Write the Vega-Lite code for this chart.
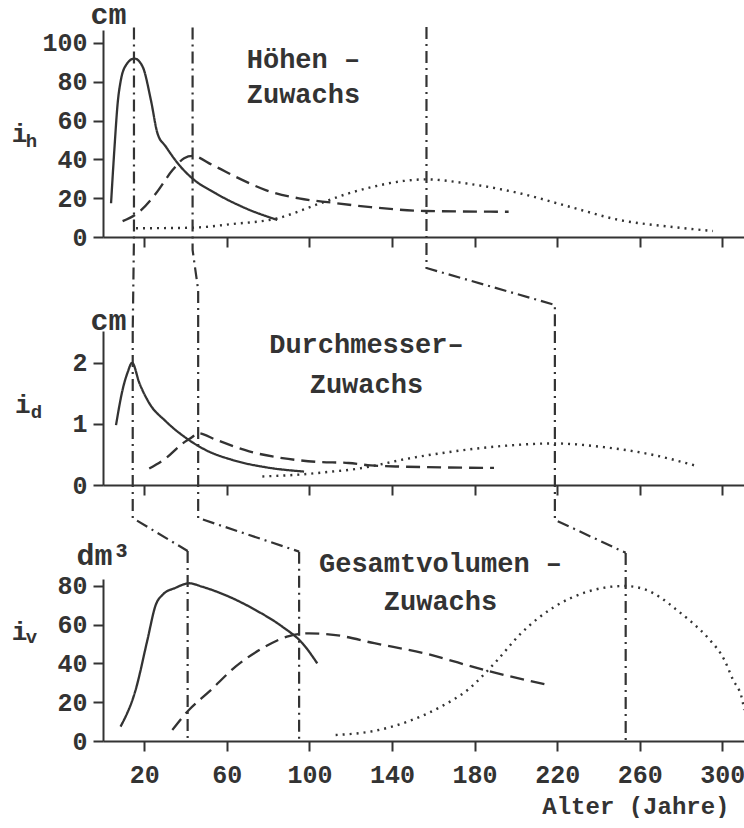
{
  "$schema": "https://vega.github.io/schema/vega-lite/v6.json",
  "background": "white",
  "padding": {"left": 11, "top": -1, "right": 0, "bottom": 0},
  "config": {
    "view": {"stroke": null},
    "font": "Liberation Mono",
    "axis": {"domainColor": "#333", "domainWidth": 2, "tickColor": "#333", "tickWidth": 2, "tickSize": 10, "labelFont": "Liberation Mono", "labelFontWeight": "bold", "labelFontSize": 25, "labelColor": "#333", "labelPadding": 6, "grid": false, "titleFont": "Liberation Mono", "titleFontWeight": "bold", "titleFontSize": 24, "titleColor": "#333"},
    "text": {"font": "Liberation Mono", "fontWeight": "bold", "color": "#333"}
  },
  "datasets": {
    "curves": [
      {"panel": "h", "series": "solid", "age": 3.9, "value": 17.4},
      {"panel": "h", "series": "solid", "age": 5.5, "value": 45},
      {"panel": "h", "series": "solid", "age": 7.2, "value": 70},
      {"panel": "h", "series": "solid", "age": 8.5, "value": 80},
      {"panel": "h", "series": "solid", "age": 11.2, "value": 88.7},
      {"panel": "h", "series": "solid", "age": 15.2, "value": 92},
      {"panel": "h", "series": "solid", "age": 19.2, "value": 87.8},
      {"panel": "h", "series": "solid", "age": 23.2, "value": 70.6},
      {"panel": "h", "series": "solid", "age": 26.4, "value": 53.4},
      {"panel": "h", "series": "solid", "age": 30.5, "value": 46.5},
      {"panel": "h", "series": "solid", "age": 36.9, "value": 37.1},
      {"panel": "h", "series": "solid", "age": 43.3, "value": 30.2},
      {"panel": "h", "series": "solid", "age": 54.6, "value": 22.5},
      {"panel": "h", "series": "solid", "age": 69.1, "value": 14.8},
      {"panel": "h", "series": "solid", "age": 84.4, "value": 8.8},
      {"panel": "h", "series": "dashed", "age": 9.5, "value": 8.2},
      {"panel": "h", "series": "dashed", "age": 17.6, "value": 13},
      {"panel": "h", "series": "dashed", "age": 25.7, "value": 22.5},
      {"panel": "h", "series": "dashed", "age": 33.7, "value": 34.5},
      {"panel": "h", "series": "dashed", "age": 39.3, "value": 40.6},
      {"panel": "h", "series": "dashed", "age": 43.3, "value": 41.8},
      {"panel": "h", "series": "dashed", "age": 53, "value": 37.1},
      {"panel": "h", "series": "dashed", "age": 65.9, "value": 30.2},
      {"panel": "h", "series": "dashed", "age": 78.8, "value": 24.2},
      {"panel": "h", "series": "dashed", "age": 94.9, "value": 19.9},
      {"panel": "h", "series": "dashed", "age": 111, "value": 17.7},
      {"panel": "h", "series": "dashed", "age": 129.7, "value": 15.4},
      {"panel": "h", "series": "dashed", "age": 156, "value": 13.4},
      {"panel": "h", "series": "dashed", "age": 196.5, "value": 13},
      {"panel": "h", "series": "dotted", "age": 16, "value": 4.5},
      {"panel": "h", "series": "dotted", "age": 30, "value": 4.6},
      {"panel": "h", "series": "dotted", "age": 43.3, "value": 4.8},
      {"panel": "h", "series": "dotted", "age": 62.7, "value": 6.7},
      {"panel": "h", "series": "dotted", "age": 84.4, "value": 9.6},
      {"panel": "h", "series": "dotted", "age": 103, "value": 16.5},
      {"panel": "h", "series": "dotted", "age": 119, "value": 22.5},
      {"panel": "h", "series": "dotted", "age": 129.7, "value": 25.6},
      {"panel": "h", "series": "dotted", "age": 145.7, "value": 28.9},
      {"panel": "h", "series": "dotted", "age": 156.2, "value": 29.7},
      {"panel": "h", "series": "dotted", "age": 178, "value": 27.3},
      {"panel": "h", "series": "dotted", "age": 202, "value": 22.5},
      {"panel": "h", "series": "dotted", "age": 226, "value": 15.6},
      {"panel": "h", "series": "dotted", "age": 250, "value": 8.8},
      {"panel": "h", "series": "dotted", "age": 274.7, "value": 5.3},
      {"panel": "h", "series": "dotted", "age": 295.5, "value": 3.1},
      {"panel": "d", "series": "solid", "age": 6.3, "value": 0.98},
      {"panel": "d", "series": "solid", "age": 9.5, "value": 1.56},
      {"panel": "d", "series": "solid", "age": 12, "value": 1.85},
      {"panel": "d", "series": "solid", "age": 14.1, "value": 2.0},
      {"panel": "d", "series": "solid", "age": 17.6, "value": 1.67},
      {"panel": "d", "series": "solid", "age": 22.4, "value": 1.34},
      {"panel": "d", "series": "solid", "age": 30.5, "value": 1.04},
      {"panel": "d", "series": "solid", "age": 40.2, "value": 0.77},
      {"panel": "d", "series": "solid", "age": 49.9, "value": 0.57},
      {"panel": "d", "series": "solid", "age": 62.7, "value": 0.41},
      {"panel": "d", "series": "solid", "age": 78.9, "value": 0.29},
      {"panel": "d", "series": "solid", "age": 97.4, "value": 0.22},
      {"panel": "d", "series": "dashed", "age": 22.4, "value": 0.27},
      {"panel": "d", "series": "dashed", "age": 30.5, "value": 0.44},
      {"panel": "d", "series": "dashed", "age": 37.8, "value": 0.66},
      {"panel": "d", "series": "dashed", "age": 43.4, "value": 0.79},
      {"panel": "d", "series": "dashed", "age": 45.8, "value": 0.85},
      {"panel": "d", "series": "dashed", "age": 54.7, "value": 0.74},
      {"panel": "d", "series": "dashed", "age": 70.8, "value": 0.55},
      {"panel": "d", "series": "dashed", "age": 86.9, "value": 0.44},
      {"panel": "d", "series": "dashed", "age": 103, "value": 0.38},
      {"panel": "d", "series": "dashed", "age": 119, "value": 0.36},
      {"panel": "d", "series": "dashed", "age": 129.7, "value": 0.32},
      {"panel": "d", "series": "dashed", "age": 145.9, "value": 0.3},
      {"panel": "d", "series": "dashed", "age": 189.4, "value": 0.28},
      {"panel": "d", "series": "dotted", "age": 77.2, "value": 0.14},
      {"panel": "d", "series": "dotted", "age": 95, "value": 0.17},
      {"panel": "d", "series": "dotted", "age": 111, "value": 0.22},
      {"panel": "d", "series": "dotted", "age": 122, "value": 0.26},
      {"panel": "d", "series": "dotted", "age": 132, "value": 0.32},
      {"panel": "d", "series": "dotted", "age": 145.9, "value": 0.42},
      {"panel": "d", "series": "dotted", "age": 170, "value": 0.55},
      {"panel": "d", "series": "dotted", "age": 194, "value": 0.64},
      {"panel": "d", "series": "dotted", "age": 218.4, "value": 0.68},
      {"panel": "d", "series": "dotted", "age": 242.6, "value": 0.62},
      {"panel": "d", "series": "dotted", "age": 266.8, "value": 0.49},
      {"panel": "d", "series": "dotted", "age": 287.7, "value": 0.31},
      {"panel": "v", "series": "solid", "age": 8.5, "value": 7.4},
      {"panel": "v", "series": "solid", "age": 15.8, "value": 26.3},
      {"panel": "v", "series": "solid", "age": 21.5, "value": 52},
      {"panel": "v", "series": "solid", "age": 25.5, "value": 70},
      {"panel": "v", "series": "solid", "age": 29, "value": 75.5},
      {"panel": "v", "series": "solid", "age": 35.2, "value": 79},
      {"panel": "v", "series": "solid", "age": 41.7, "value": 81.3},
      {"panel": "v", "series": "solid", "age": 48.1, "value": 79.5},
      {"panel": "v", "series": "solid", "age": 61, "value": 74.4},
      {"panel": "v", "series": "solid", "age": 73.9, "value": 67.5},
      {"panel": "v", "series": "solid", "age": 86.9, "value": 58.9},
      {"panel": "v", "series": "solid", "age": 96.6, "value": 50.4},
      {"panel": "v", "series": "solid", "age": 103.8, "value": 40},
      {"panel": "v", "series": "dashed", "age": 33.6, "value": 5.7},
      {"panel": "v", "series": "dashed", "age": 41.6, "value": 16},
      {"panel": "v", "series": "dashed", "age": 51.4, "value": 25.4},
      {"panel": "v", "series": "dashed", "age": 64.2, "value": 38.3},
      {"panel": "v", "series": "dashed", "age": 77.2, "value": 47.8},
      {"panel": "v", "series": "dashed", "age": 90.1, "value": 54.1},
      {"panel": "v", "series": "dashed", "age": 99.8, "value": 55.5},
      {"panel": "v", "series": "dashed", "age": 112.7, "value": 54.6},
      {"panel": "v", "series": "dashed", "age": 131.4, "value": 50.4},
      {"panel": "v", "series": "dashed", "age": 155.7, "value": 45.2},
      {"panel": "v", "series": "dashed", "age": 184.7, "value": 36.6},
      {"panel": "v", "series": "dashed", "age": 215.4, "value": 28.9},
      {"panel": "v", "series": "dotted", "age": 112.7, "value": 3.1},
      {"panel": "v", "series": "dotted", "age": 131.4, "value": 5.2},
      {"panel": "v", "series": "dotted", "age": 147.6, "value": 10},
      {"panel": "v", "series": "dotted", "age": 163.7, "value": 17.7},
      {"panel": "v", "series": "dotted", "age": 176.6, "value": 26.3},
      {"panel": "v", "series": "dotted", "age": 189.6, "value": 40},
      {"panel": "v", "series": "dotted", "age": 202.5, "value": 55.5},
      {"panel": "v", "series": "dotted", "age": 218.7, "value": 69.2},
      {"panel": "v", "series": "dotted", "age": 234.8, "value": 77},
      {"panel": "v", "series": "dotted", "age": 252.6, "value": 79.9},
      {"panel": "v", "series": "dotted", "age": 262.9, "value": 78},
      {"panel": "v", "series": "dotted", "age": 270, "value": 74},
      {"panel": "v", "series": "dotted", "age": 277.4, "value": 68},
      {"panel": "v", "series": "dotted", "age": 284.9, "value": 61.5},
      {"panel": "v", "series": "dotted", "age": 293.6, "value": 52.5},
      {"panel": "v", "series": "dotted", "age": 301, "value": 41.8},
      {"panel": "v", "series": "dotted", "age": 305, "value": 32},
      {"panel": "v", "series": "dotted", "age": 309.7, "value": 21.1},
      {"panel": "v", "series": "dotted", "age": 310.6, "value": 16}
    ],
    "links": [
      {"panel": "h", "link": 1, "order": 0, "age": 15, "value": 108},
      {"panel": "h", "link": 1, "order": 1, "age": 15, "value": 0},
      {"panel": "h", "link": 1, "order": 2, "age": 14.4, "value": -48.5},
      {"panel": "h", "link": 2, "order": 0, "age": 43.4, "value": 108},
      {"panel": "h", "link": 2, "order": 1, "age": 43.4, "value": -6.7},
      {"panel": "h", "link": 2, "order": 2, "age": 46.1, "value": -27.3},
      {"panel": "h", "link": 2, "order": 3, "age": 46.1, "value": -48.5},
      {"panel": "h", "link": 3, "order": 0, "age": 156.7, "value": 108.2},
      {"panel": "h", "link": 3, "order": 1, "age": 156.7, "value": -16},
      {"panel": "h", "link": 3, "order": 2, "age": 218.9, "value": -35},
      {"panel": "h", "link": 3, "order": 3, "age": 218.9, "value": -48.5},
      {"panel": "d", "link": 1, "order": 0, "age": 14.4, "value": 2.52},
      {"panel": "d", "link": 1, "order": 1, "age": 14.4, "value": -0.54},
      {"panel": "d", "link": 1, "order": 2, "age": 41, "value": -1.08},
      {"panel": "d", "link": 2, "order": 0, "age": 46.1, "value": 2.52},
      {"panel": "d", "link": 2, "order": 1, "age": 46.1, "value": -0.54},
      {"panel": "d", "link": 2, "order": 2, "age": 95, "value": -1.09},
      {"panel": "d", "link": 3, "order": 0, "age": 218.9, "value": 2.52},
      {"panel": "d", "link": 3, "order": 1, "age": 218.9, "value": -0.57},
      {"panel": "d", "link": 3, "order": 2, "age": 253.2, "value": -1.11},
      {"panel": "v", "link": 1, "order": 0, "age": 41, "value": 97.9},
      {"panel": "v", "link": 1, "order": 1, "age": 41, "value": 0},
      {"panel": "v", "link": 2, "order": 0, "age": 95, "value": 97.6},
      {"panel": "v", "link": 2, "order": 1, "age": 95, "value": 0},
      {"panel": "v", "link": 3, "order": 0, "age": 253.2, "value": 96.9},
      {"panel": "v", "link": 3, "order": 1, "age": 253.2, "value": 0}
    ]
  },
  "spacing": 94,
  "bounds": "flush",
  "vconcat": [
    {
      "width": 642,
      "height": 207,
      "layer": [
        {
          "data": {"name": "curves"},
          "transform": [{"filter": "datum.panel === 'h'"}],
          "mark": {"type": "line", "interpolate": "monotone", "color": "#333"},
          "encoding": {
            "x": {"field": "age", "type": "quantitative", "scale": {"domain": [0, 311], "nice": false, "zero": false}, "axis": {"values": [20, 60, 100, 140, 180, 220, 260, 300], "labels": false, "title": null}},
            "y": {"field": "value", "type": "quantitative", "scale": {"domain": [0, 106.7], "nice": false}, "axis": {"values": [0, 20, 40, 60, 80, 100], "format": "d", "title": null}},
            "detail": {"field": "series"},
            "strokeDash": {"field": "series", "type": "nominal", "scale": {"domain": ["solid", "dashed", "dotted"], "range": [[1, 0], [14, 7], [2, 5]]}, "legend": null},
            "strokeWidth": {"field": "series", "type": "nominal", "scale": {"domain": ["solid", "dashed", "dotted"], "range": [2.3, 2.4, 2]}, "legend": null}
          }
        },
        {
          "data": {"name": "links"},
          "transform": [{"filter": "datum.panel === 'h'"}],
          "mark": {"type": "line", "strokeDash": [12, 5, 2, 5], "strokeWidth": 2.2, "color": "#333"},
          "encoding": {
            "x": {"field": "age", "type": "quantitative"},
            "y": {"field": "value", "type": "quantitative"},
            "detail": {"field": "link"},
            "order": {"field": "order"}
          }
        },
        {
          "data": {"values": [{"label": "cm"}]},
          "mark": {"type": "text", "fontSize": 30, "align": "center", "baseline": "alphabetic"},
          "encoding": {"text": {"field": "label"}, "x": {"datum": 2.7}, "y": {"datum": 109.8}}
        },
        {
          "data": {"values": [{"label": "i"}]},
          "mark": {"type": "text", "fontSize": 26, "align": "center", "baseline": "alphabetic"},
          "encoding": {"text": {"field": "label"}, "x": {"datum": -40.4}, "y": {"datum": 49}}
        },
        {
          "data": {"values": [{"label": "h"}]},
          "mark": {"type": "text", "fontSize": 19, "align": "center", "baseline": "alphabetic"},
          "encoding": {"text": {"field": "label"}, "x": {"datum": -34.6}, "y": {"datum": 46.4}}
        },
        {
          "data": {"values": [{"label": "Höhen –\nZuwachs"}]},
          "mark": {"type": "text", "fontSize": 27, "align": "center", "baseline": "alphabetic", "lineBreak": "\n", "lineHeight": 35},
          "encoding": {"text": {"field": "label"}, "x": {"datum": 97.1}, "y": {"datum": 87.1}}
        }
      ]
    },
    {
      "width": 642,
      "height": 154,
      "layer": [
        {
          "data": {"name": "curves"},
          "transform": [{"filter": "datum.panel === 'd'"}],
          "mark": {"type": "line", "interpolate": "monotone", "color": "#333"},
          "encoding": {
            "x": {"field": "age", "type": "quantitative", "scale": {"domain": [0, 311], "nice": false, "zero": false}, "axis": {"values": [20, 60, 100, 140, 180, 220, 260, 300], "labels": false, "title": null}},
            "y": {"field": "value", "type": "quantitative", "scale": {"domain": [0, 2.52], "nice": false}, "axis": {"values": [0, 1, 2], "format": "d", "title": null}},
            "detail": {"field": "series"},
            "strokeDash": {"field": "series", "type": "nominal", "scale": {"domain": ["solid", "dashed", "dotted"], "range": [[1, 0], [14, 7], [2, 5]]}, "legend": null},
            "strokeWidth": {"field": "series", "type": "nominal", "scale": {"domain": ["solid", "dashed", "dotted"], "range": [2.3, 2.4, 2]}, "legend": null}
          }
        },
        {
          "data": {"name": "links"},
          "transform": [{"filter": "datum.panel === 'd'"}],
          "mark": {"type": "line", "strokeDash": [12, 5, 2, 5], "strokeWidth": 2.2, "color": "#333"},
          "encoding": {
            "x": {"field": "age", "type": "quantitative"},
            "y": {"field": "value", "type": "quantitative"},
            "detail": {"field": "link"},
            "order": {"field": "order"}
          }
        },
        {
          "data": {"values": [{"label": "cm"}]},
          "mark": {"type": "text", "fontSize": 30, "align": "center", "baseline": "alphabetic"},
          "encoding": {"text": {"field": "label"}, "x": {"datum": 2.7}, "y": {"datum": 2.54}}
        },
        {
          "data": {"values": [{"label": "i"}]},
          "mark": {"type": "text", "fontSize": 26, "align": "center", "baseline": "alphabetic"},
          "encoding": {"text": {"field": "label"}, "x": {"datum": -38.8}, "y": {"datum": 1.18}}
        },
        {
          "data": {"values": [{"label": "d"}]},
          "mark": {"type": "text", "fontSize": 19, "align": "center", "baseline": "alphabetic"},
          "encoding": {"text": {"field": "label"}, "x": {"datum": -32.2}, "y": {"datum": 1.1}}
        },
        {
          "data": {"values": [{"label": "Durchmesser–\nZuwachs"}]},
          "mark": {"type": "text", "fontSize": 27, "align": "center", "baseline": "alphabetic", "lineBreak": "\n", "lineHeight": 40},
          "encoding": {"text": {"field": "label"}, "x": {"datum": 127.6}, "y": {"datum": 2.16}}
        }
      ]
    },
    {
      "width": 642,
      "height": 162,
      "layer": [
        {
          "data": {"name": "curves"},
          "transform": [{"filter": "datum.panel === 'v'"}],
          "mark": {"type": "line", "interpolate": "monotone", "color": "#333"},
          "encoding": {
            "x": {"field": "age", "type": "quantitative", "scale": {"domain": [0, 311], "nice": false, "zero": false}, "axis": {"values": [20, 60, 100, 140, 180, 220, 260, 300], "labelPadding": 11, "title": "Alter (Jahre)", "titleAngle": 0, "titleAlign": "right", "titleBaseline": "alphabetic", "titleX": 626, "titleY": 72}},
            "y": {"field": "value", "type": "quantitative", "scale": {"domain": [0, 83.5], "nice": false}, "axis": {"values": [0, 20, 40, 60, 80], "format": "d", "title": null}},
            "detail": {"field": "series"},
            "strokeDash": {"field": "series", "type": "nominal", "scale": {"domain": ["solid", "dashed", "dotted"], "range": [[1, 0], [14, 7], [2, 5]]}, "legend": null},
            "strokeWidth": {"field": "series", "type": "nominal", "scale": {"domain": ["solid", "dashed", "dotted"], "range": [2.3, 2.4, 2]}, "legend": null}
          }
        },
        {
          "data": {"name": "links"},
          "transform": [{"filter": "datum.panel === 'v'"}],
          "mark": {"type": "line", "strokeDash": [12, 5, 2, 5], "strokeWidth": 2.2, "color": "#333"},
          "encoding": {
            "x": {"field": "age", "type": "quantitative"},
            "y": {"field": "value", "type": "quantitative"},
            "detail": {"field": "link"},
            "order": {"field": "order"}
          }
        },
        {
          "data": {"values": [{"label": "dm³"}]},
          "mark": {"type": "text", "fontSize": 30, "align": "center", "baseline": "alphabetic"},
          "encoding": {"text": {"field": "label"}, "x": {"datum": 0.2}, "y": {"datum": 90.7}}
        },
        {
          "data": {"values": [{"label": "i"}]},
          "mark": {"type": "text", "fontSize": 26, "align": "center", "baseline": "alphabetic"},
          "encoding": {"text": {"field": "label"}, "x": {"datum": -40.4}, "y": {"datum": 52.1}}
        },
        {
          "data": {"values": [{"label": "v"}]},
          "mark": {"type": "text", "fontSize": 19, "align": "center", "baseline": "alphabetic"},
          "encoding": {"text": {"field": "label"}, "x": {"datum": -34.6}, "y": {"datum": 50.5}}
        },
        {
          "data": {"values": [{"label": "Gesamtvolumen –\nZuwachs"}]},
          "mark": {"type": "text", "fontSize": 27, "align": "center", "baseline": "alphabetic", "lineBreak": "\n", "lineHeight": 38},
          "encoding": {"text": {"field": "label"}, "x": {"datum": 163.5}, "y": {"datum": 87.1}}
        }
      ]
    }
  ]
}
